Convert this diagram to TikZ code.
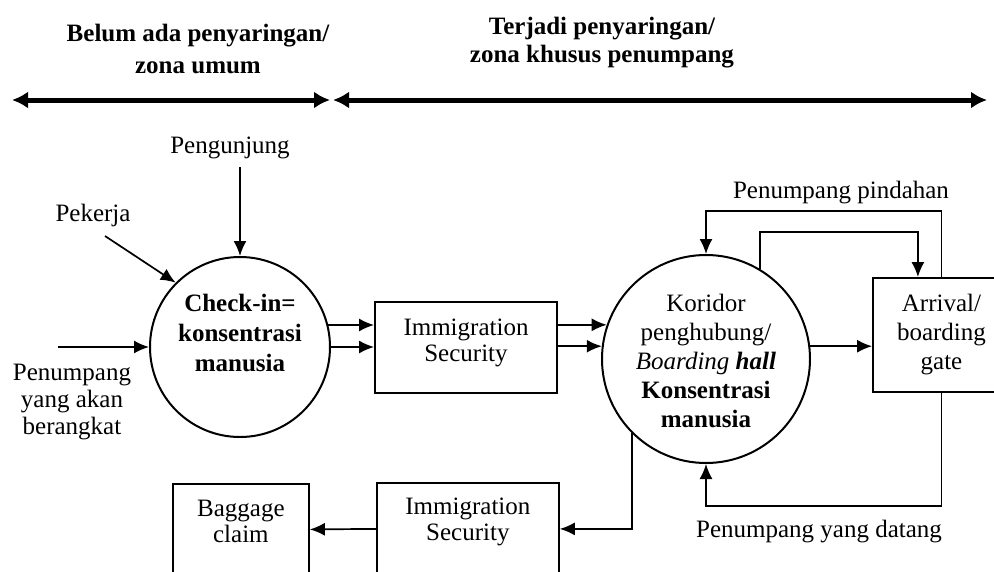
\documentclass[tikz,border=0pt]{standalone}
\usepackage{fontspec}
\setmainfont{Liberation Serif}
\usetikzlibrary{arrows.meta,calc}
\begin{document}
\begin{tikzpicture}[x=1pt,y=-1pt,
  every node/.style={font=\fontsize{25}{28}\selectfont},
  txt/.style={align=center, inner sep=0pt},
  boldtxt/.style={txt, font=\fontsize{25}{28}\selectfont\bfseries},
  hub/.style={circle, draw, line width=2pt, inner sep=0pt},
  stage/.style={rectangle, draw, line width=1.8pt, inner sep=0pt},
  flow/.style={line width=1.7pt, -{Latex[length=15pt,width=13pt]}},
  zone/.style={line width=5pt, {Latex[length=16pt,width=17pt]}-{Latex[length=16pt,width=17pt]}},
]
\clip (0,0) rectangle (994,571);
\fill[white] (0,0) rectangle (994,571);

% zone headings and range arrows
\node[boldtxt, font=\fontsize{25}{32}\selectfont\bfseries] (zpublic) at (198,49) {Belum ada penyaringan/\\zona umum};
\node[boldtxt] (zpass) at (602,43) {Terjadi penyaringan/\\zona khusus penumpang};
\coordinate (zl) at (12,100);
\coordinate (zml) at (330,100);
\coordinate (zmr) at (333,100);
\coordinate (zr) at (987,100);
\draw[zone] (zl) -- (zml);
\draw[zone] (zmr) -- (zr);

% check-in hub
\node[hub, minimum size=180] (ci) at (240,347) {};
\node[boldtxt, font=\fontsize{25}{30}\selectfont\bfseries] (citxt) at (240,333) {Check-in=\\konsentrasi\\manusia};

% incoming flows to check-in
\node[txt] (pengunjung) at (230,148) {Pengunjung};
\node[txt] (pekerja) at (93,215) {Pekerja};
\node[txt, font=\fontsize{25}{27}\selectfont] (berangkat) at (72,402) {Penumpang\\yang akan\\berangkat};
\coordinate (pekfrom) at (105,236);
\coordinate (berfrom) at (58,347);
\draw[flow] ([yshift=-8]ci.north |- pengunjung.south) -- (ci.north);
\draw[flow] (pekfrom) -- (ci.135);
\draw[flow] (berfrom) -- (ci.west);

% departure immigration
\node[stage, minimum width=182, minimum height=91] (imm1) at (466,347.5) {};
\node[txt, font=\fontsize{25}{26}\selectfont] (imm1txt) at ([yshift=5]imm1.center) {Immigration\\Security};
\draw[flow] (ci.14) -- (imm1.west |- ci.14);
\draw[flow] (ci.east) -- (imm1.west |- ci.east);

% corridor / boarding hall hub
\node[hub, minimum size=208] (kor) at (706,359) {};
\node[txt, font=\fontsize{25}{29}\selectfont] (kortxt) at ([yshift=-2]kor.center) {Koridor\\penghubung/\\\textit{Boarding \textbf{hall}}\\\textbf{Konsentrasi}\\\textbf{manusia}};
\draw[flow] (imm1.east |- kor.161) -- (kor.161);
\draw[flow] (imm1.east |- kor.173) -- (kor.173);

% gate
\node[stage, minimum width=137, minimum height=114, align=center, font=\fontsize{25}{29}\selectfont] (arrv) at (941.5,335) {Arrival/\\boarding\\gate};
\draw[flow] (kor.7) -- (arrv.west |- kor.7);

% transfer passengers
\node[txt] (pindah) at (841,193) {Penumpang pindahan};
\draw[flow] (arrv.north) -- ++(0,-66) -| (kor.north);
\coordinate (gatein) at ($(arrv.north west)!0.33!(arrv.north east)$);
\draw[flow] (kor.59) -- ++(0,-37) -| (gatein);

% arriving passengers
\node[txt] (datang) at (819,532) {Penumpang yang datang};
\draw[flow] (arrv.south) -- ++(0,113) -| (kor.south);

% arrival immigration and baggage claim
\node[stage, minimum width=182, minimum height=92, anchor=north west] (imm2) at (376,482) {};
\node[txt, font=\fontsize{25}{26}\selectfont] (imm2txt) at ([yshift=7]imm2.center) {Immigration\\Security};
\node[stage, minimum width=136, minimum height=91, anchor=north west] (bag) at (172,483) {};
\node[txt, font=\fontsize{25}{26}\selectfont] (bagtxt) at ([yshift=8]bag.center) {Baggage\\claim};
\draw[flow] (kor.225) |- (imm2.east);
\draw[flow] (imm2.west) -- (bag.east);
\end{tikzpicture}
\end{document}
